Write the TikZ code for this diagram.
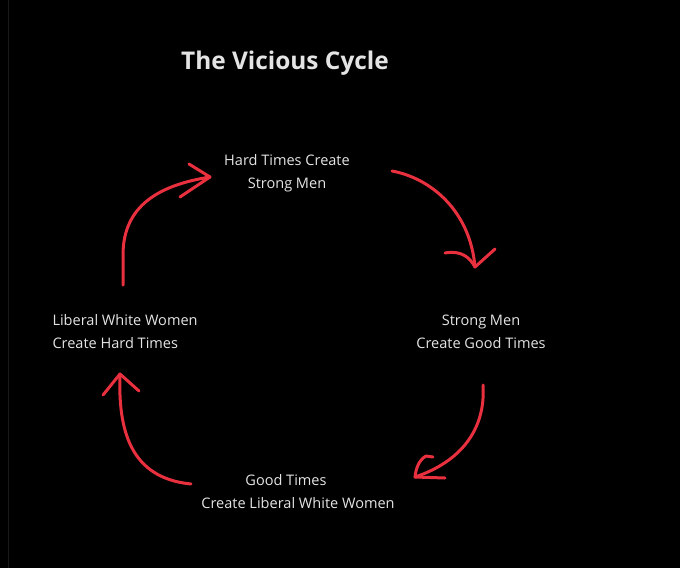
\documentclass[tikz,border=0pt]{standalone}
\usepackage{fontspec}
\setmainfont{Open Sans}
\definecolor{penred}{RGB}{232,48,62}
\definecolor{txtgray}{RGB}{228,228,228}

\tikzset{every picture/.style={line width=0.75pt}}

\begin{document}
\begin{tikzpicture}[x=0.75pt,y=0.75pt,yscale=-1,xscale=1,
	pen/.style={draw=penred, line width=2.25, line cap=round, line join=round},
	label/.style={text=txtgray, inner sep=0, font=\fontsize{10.9}{17.25}\selectfont}]
	%set diagram size 680 x 567
	\useasboundingbox (0,0) rectangle (680,567);
	\fill [black] (-5,-5) rectangle (685,572);
	\draw [color={rgb, 255:red, 26; green, 26; blue, 26 }, line width=0.75] (8,-5) -- (8,572);

	% Text Node
	\node (title) [text=txtgray, font=\bfseries\fontsize{18.3}{22}\selectfont] at (285,63) {The Vicious Cycle};
	% Text Node
	\node (hard) [label, align=center] at (287,173.5) {Hard Times Create\\Strong Men};
	% Text Node
	\node (strong) [label, align=center] at (481,332) {Strong Men\\Create Good Times};
	% Text Node
	\node (good) [label, align=center] at (298,491.5) {Good Times\hspace*{18pt}\\Create Liberal White Women};
	% Text Node
	\node (liberal) [label, align=left, anchor=west] at (52,332) {Liberal White Women\\Create Hard Times};

	% arrow ends
	\coordinate (liberalOut) at (123,285);
	\coordinate (hardIn) at (210,177);
	\coordinate (hardOut) at (392,171);
	\coordinate (strongIn) at (475,267);
	\coordinate (strongOut) at (483,385);
	\coordinate (goodIn) at (415,477);
	\coordinate (goodOut) at (191,484);
	\coordinate (liberalIn) at (120,374);

	%Curve Lines 
	\draw [pen] (liberalOut) -- (123,255) .. controls (123,205) and (160,185) .. (hardIn) ;
	\draw [pen] (189,164) -- (hardIn) -- (180,197) ;
	%Curve Lines 
	\draw [pen] (hardOut) .. controls (430,178) and (470,210) .. (strongIn) ;
	\draw [pen] (445,253) .. controls (462,250) and (470,258) .. (strongIn) -- (495,249) ;
	%Curve Lines 
	\draw [pen] (strongOut) .. controls (486,430) and (460,462) .. (goodIn) ;
	\draw [pen] (433,457) -- (426,456) .. controls (419,460) and (416,468) .. (goodIn) -- (445,478) ;
	%Curve Lines 
	\draw [pen] (goodOut) .. controls (130,478) and (118,430) .. (liberalIn) ;
	\draw [pen] (103,395) -- (liberalIn) -- (139,391) ;

\end{tikzpicture}
\end{document}
